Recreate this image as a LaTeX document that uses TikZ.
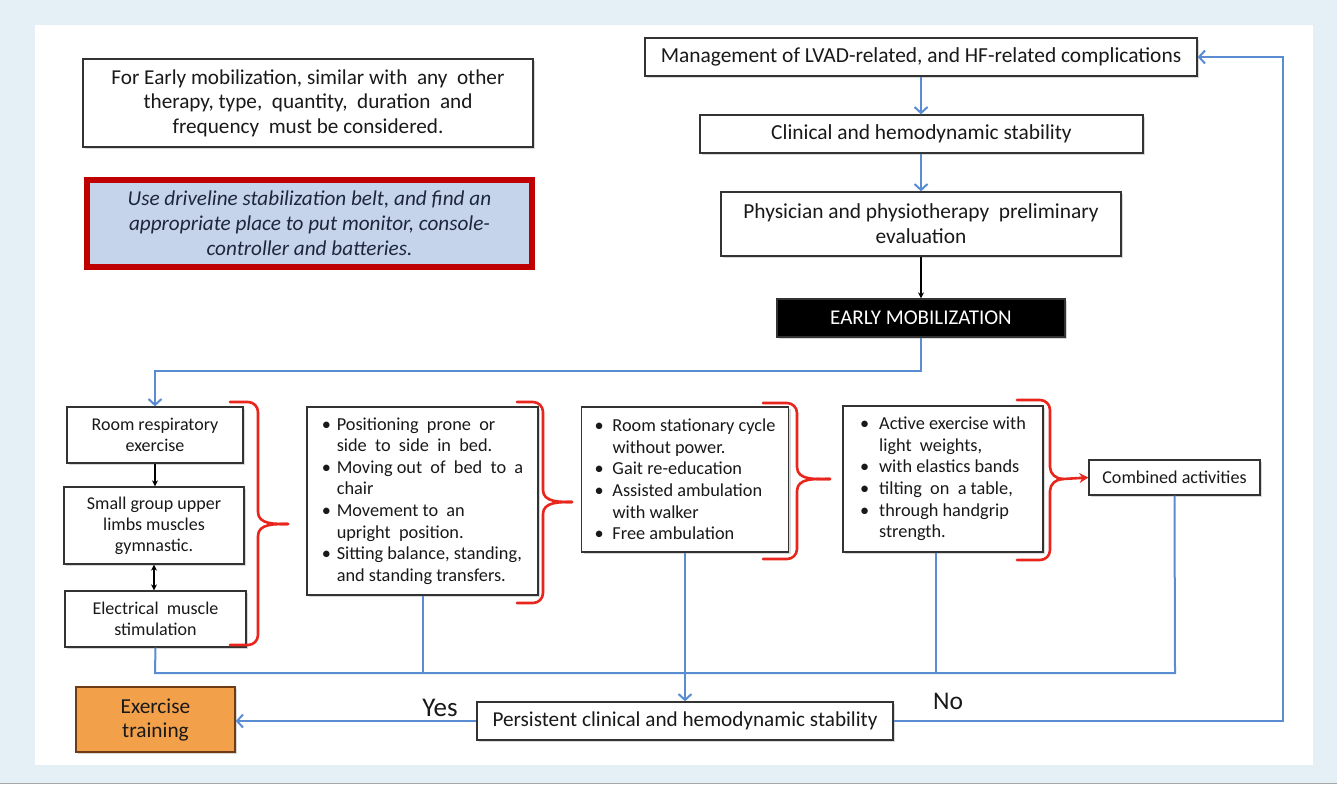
\documentclass[tikz,border=0pt]{standalone}
\usepackage{fontspec}
\setmainfont{Carlito}
\usetikzlibrary{arrows.meta,shadows,calc}
\definecolor{bgblue}{RGB}{228,240,245}
\definecolor{lblue}{RGB}{90,140,210}
\definecolor{bred}{RGB}{232,38,30}
\definecolor{dred}{RGB}{192,0,0}
\definecolor{beltfill}{RGB}{198,212,235}
\definecolor{navy}{RGB}{30,38,60}
\definecolor{orangefill}{RGB}{243,160,75}
\definecolor{obord}{RGB}{110,60,20}
\definecolor{txt}{RGB}{25,25,25}
\newcommand{\fsz}[2]{\fontsize{#1}{#2}\selectfont}
\newlength{\bw}
\setlength{\bw}{16pt}
\newcommand{\bitem}{\makebox[\bw][l]{\textbullet}}
\newcommand{\bcont}{\hspace*{\bw}}
\newcommand{\redbrace}[6]{%
  \draw[rbrace] (#1,#3) -- ({#2-10},#3) to[out=0,in=90] (#2,{#3+10}) -- (#2,{#6-12})
    to[out=-90,in=180] (#5,#6);
  \draw[rbrace] (#5,#6) to[out=180,in=90] (#2,{#6+12}) -- (#2,{#4-10})
    to[out=-90,in=0] ({#2-10},#4) -- (#1,#4);}
\tikzset{
  box/.style={draw=black!80, line width=1.3pt, fill=white, inner sep=0pt, align=center,
    text=txt, drop shadow={shadow xshift=2pt, shadow yshift=-2pt, opacity=0.3}},
  blist/.style={box, align=left},
  bullw/.style={execute at begin node={\setlength{\bw}{#1}}},
  bline/.style={draw=lblue, line width=2pt},
  barrow/.style={bline, -{Straight Barb[length=6pt,width=13pt,line width=2pt]}},
  karrow/.style={draw=black, line width=1.3pt, -{Stealth[length=6pt,width=6pt]}},
  kdarrow/.style={draw=black, line width=1.3pt, {Stealth[length=6pt,width=6pt]}-{Stealth[length=6pt,width=6pt]}},
  rbrace/.style={draw=bred, line width=2.6pt, line cap=round},
  lbl/.style={inner sep=0pt, text=txt},
}
\begin{document}
\begin{tikzpicture}[x=1pt,y=-1pt]
\useasboundingbox (0,0) rectangle (1337,784);
\fill[bgblue] (0,0) rectangle (1337,784);
\fill[white] (35,25) rectangle (1313,765);
\draw[black!35, line width=1pt] (0,783.5) -- (1337,783.5);

% top-left notes
\node[box, minimum width=450pt, minimum height=88pt, font=\fsz{21.2}{24.5}] (note) at (308,103)
  {For Early mobilization, similar with \ any \ other\\ therapy, type, \ quantity, \ duration \ and\\ frequency \ must be considered.};
\node[draw=dred, line width=6pt, fill=beltfill, inner sep=0pt, align=center, text=navy,
  minimum width=445pt, minimum height=87pt, font=\fsz{21.2}{25}\itshape] (belt) at (309.5,223.5)
  {Use driveline stabilization belt, and find an\\ appropriate place to put monitor, console-\\ controller and batteries.};

% top flow
\node[box, minimum width=552pt, minimum height=38pt, font=\fsz{21.4}{24}] (mgmt) at (921,57)
  {Management of LVAD-related, and HF-related complications};
\node[box, minimum width=443pt, minimum height=38pt, font=\fsz{21.4}{24}] (clin) at (921.5,134)
  {Clinical and hemodynamic stability};
\node[box, minimum width=400pt, minimum height=64pt, font=\fsz{21.4}{25}] (phys) at (921,224)
  {Physician and physiotherapy \ preliminary\\ evaluation};
\node[box, fill=black, text=white, minimum width=288pt, minimum height=38pt, font=\fsz{21}{23}] (em) at (921,318)
  {EARLY MOBILIZATION};

% left column
\node[box, minimum width=176pt, minimum height=56pt, font=\fsz{18}{21}] (room) at (155,435)
  {Room respiratory\\ exercise};
\node[box, minimum width=180pt, minimum height=77pt, font=\fsz{18}{21}] (small) at (154,525.5)
  {Small group upper\\ limbs muscles\\ gymnastic.};
\node[box, minimum width=181pt, minimum height=56pt, font=\fsz{18}{21}] (elec) at (155.5,619)
  {Electrical \ muscle\\ stimulation};

% bullet boxes
\node[blist, bullw=15pt, minimum width=231pt, minimum height=188pt, font=\fsz{18.3}{21.6}] (b2) at (422.5,501)
  {\bitem Positioning \ prone \ or\\ \bcont side \ to \ side \ in \ bed.\\
   \bitem Moving out \ of \ bed \ to \ a\\ \bcont chair\\
   \bitem Movement to \ an\\ \bcont upright \ position.\\
   \bitem Sitting balance, standing,\\ \bcont and standing transfers.};
\node[blist, bullw=18pt, minimum width=207pt, minimum height=145pt, font=\fsz{18.3}{21.6}] (b3) at (685,479.5)
  {\bitem Room stationary cycle\\ \bcont without power.\\
   \bitem Gait re-education\\
   \bitem Assisted ambulation\\ \bcont with walker\\
   \bitem Free ambulation};
\node[blist, bullw=19pt, minimum width=200pt, minimum height=146pt, font=\fsz{18.3}{21.6}] (b4) at (943,479)
  {\bitem Active exercise with\\ \bcont light \ weights,\\
   \bitem with elastics bands\\
   \bitem tilting \ on \ a table,\\
   \bitem through handgrip\\ \bcont strength.};
\node[box, minimum width=171pt, minimum height=35pt, font=\fsz{18.1}{21}] (comb) at (1174.5,477.5)
  {Combined activities};

% bottom
\node[box, minimum width=416pt, minimum height=38pt, font=\fsz{21.2}{24}] (pers) at (685,721)
  {Persistent clinical and hemodynamic stability};
\node[box, fill=orangefill, draw=obord, minimum width=159pt, minimum height=65pt, font=\fsz{21.3}{24}] (ex) at (155.5,719.5)
  {Exercise\\ training};
\node[lbl, font=\fsz{27}{30}] (yes) at (440,708) {Yes};
\node[lbl, font=\fsz{25.5}{28}] (no) at (948,701) {No};

% braces
\redbrace{230}{258}{402}{645}{288}{524}
\redbrace{517}{543}{402}{603}{572}{502}
\redbrace{763}{797}{403}{559}{830}{479}
\redbrace{1017}{1050}{400}{560}{1063}{479}
\draw[draw=bred, line width=2.6pt, -{Stealth[length=9pt,width=10pt]}] (1063,479) -- (comb.west);

% coordinates
\coordinate (xa) at (921,0);
\coordinate (t1) at (921,371);
\coordinate (hl) at (155,673);
\coordinate (hr) at (1175,673);
\coordinate (rc) at (1283,57);
\coordinate (b4x) at (936,0);

% top connectors
\draw[barrow] (mgmt.south -| xa) -- (clin.north -| xa);
\draw[barrow] (clin.south -| xa) -- (phys.north -| xa);
\draw[karrow] (phys.south -| xa) -- (em.north -| xa);
\draw[barrow] (em.south) -- (t1) -| (room.north);

% left column connectors
\draw[karrow] (room.south) -- (room.south |- small.north);
\draw[kdarrow] (small.south) -- (small.south |- elec.north);

% collector lines
\draw[bline] (elec.south) -- (hl) -- (hr) -- (comb.south);
\draw[bline] (b2.south) -- (b2.south |- hl);
\draw[bline] (b4.south -| b4x) -- (b4x |- hl);
\draw[barrow] (b3.south) -- (pers.north);

% bottom connectors
\draw[barrow] (pers.west) -- (ex.east |- pers.west);
\draw[barrow] (pers.east) -| (rc) -- (mgmt.east);
\end{tikzpicture}
\end{document}
